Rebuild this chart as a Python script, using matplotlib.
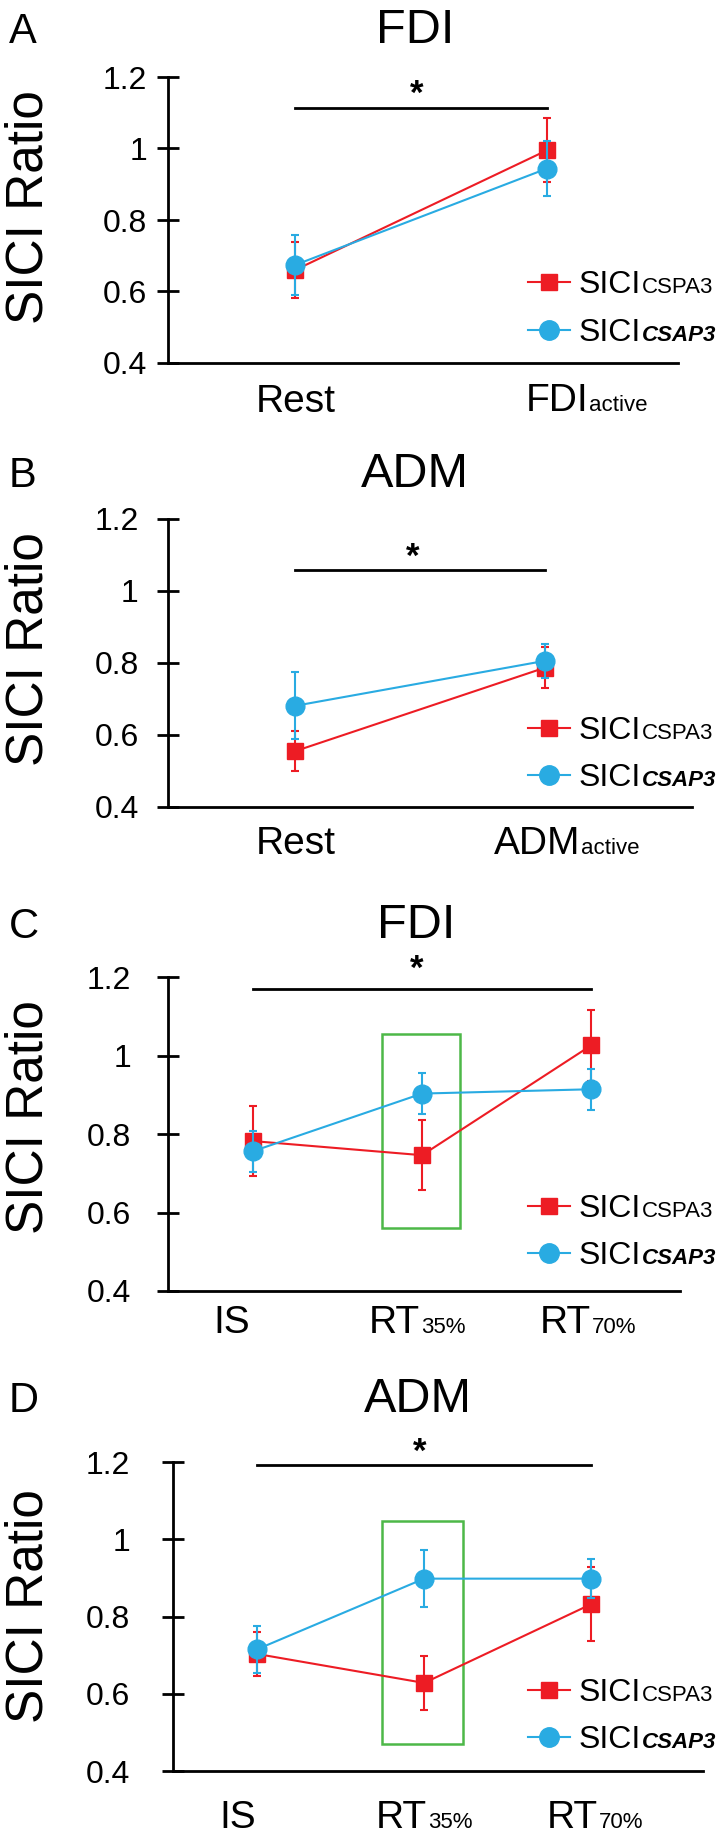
import matplotlib
matplotlib.use('Agg')
import matplotlib.pyplot as plt
from matplotlib.lines import Line2D
from matplotlib.patches import Rectangle

plt.rcParams['font.family'] = ['Liberation Sans', 'DejaVu Sans']

W, H = 722, 1835
RED = '#ED1C24'
BLUE = '#29ABE2'
GREEN = '#4DB848'

# panel A: FDI, rest vs active
cspa3_a = [0.660, 0.995]
cspa3_a_err = [0.079, 0.090]
csap3_a = [0.674, 0.944]
csap3_a_err = [0.083, 0.078]

# panel B: ADM, rest vs active
cspa3_b = [0.555, 0.787]
cspa3_b_err = [0.055, 0.057]
csap3_b = [0.681, 0.806]
csap3_b_err = [0.093, 0.047]

# panel C: FDI, IS / RT35% / RT70%
cspa3_c = [0.782, 0.746, 1.026]
cspa3_c_err = [0.090, 0.089, 0.090]
csap3_c = [0.756, 0.903, 0.914]
csap3_c_err = [0.052, 0.052, 0.052]

# panel D: ADM, IS / RT35% / RT70%
cspa3_d = [0.703, 0.628, 0.832]
cspa3_d_err = [0.057, 0.069, 0.095]
csap3_d = [0.715, 0.898, 0.898]
csap3_d_err = [0.061, 0.074, 0.051]

yticks = [0.4, 0.6, 0.8, 1.0, 1.2]
ytick_labels = ['0.4', '0.6', '0.8', '1', '1.2']

sig_y = [1.114, 1.058, 1.170, 1.193]
star_y = [1.181, 1.123, 1.247, 1.252]
star_x = [0.484, 0.47, 0.97, 0.976]
sig_span = [(0, 1), (0, 1), (0, 2), (0, 2)]

# highlight boxes (x0, x1, y0, y1) for panels C and D
box_c = (0.763, 1.226, 0.561, 1.056)
box_d = (0.748, 1.230, 0.470, 1.046)


def fx(x):
    return x / W


def fy(y):
    return 1 - y / H


def text_sub(ax, x, y, main, sub, size, sub_size, sub_style='normal', sub_weight='normal'):
    """main text with a smaller text on the same baseline right after it"""
    t = ax.figure.text(fx(x), fy(y), main, fontsize=size, ha='left', va='baseline')
    ax.annotate(sub, xy=(1, 0), xycoords=t, xytext=(0.5, 0.21 * size),
                textcoords='offset points', fontsize=sub_size, va='baseline',
                ha='left', fontstyle=sub_style, fontweight=sub_weight)


fig = plt.figure(figsize=(W / 100, H / 100), dpi=100)

# left, right, top, bottom in pixels, xlim, tick pad
layouts = [
    (168, 678, 77, 363, (-0.504, 1.520), 7.2),
    (168, 692, 519, 807, (-0.508, 1.588), 13),
    (168, 680, 977, 1291, (-0.501, 2.524), 18.7),
    (173, 703, 1462, 1771, (-0.503, 2.669), 23),
]
red_data = [(cspa3_a, cspa3_a_err), (cspa3_b, cspa3_b_err),
            (cspa3_c, cspa3_c_err), (cspa3_d, cspa3_d_err)]
blue_data = [(csap3_a, csap3_a_err), (csap3_b, csap3_b_err),
             (csap3_c, csap3_c_err), (csap3_d, csap3_d_err)]

axes = []
for i, (l, r, t, b, xlim, pad) in enumerate(layouts):
    ax = fig.add_axes([fx(l), fy(b), (r - l) / W, (b - t) / H])
    axes.append(ax)
    rv, re = red_data[i]
    bv, be = blue_data[i]
    xs = list(range(len(rv)))
    ax.errorbar(xs, rv, yerr=re, color=RED, lw=1.5, marker='s', ms=12,
                capsize=3.2, capthick=1.5, elinewidth=1.5, clip_on=False, zorder=3)
    ax.errorbar(xs, bv, yerr=be, color=BLUE, lw=1.5, marker='o', ms=13.5,
                capsize=3.2, capthick=1.5, elinewidth=1.5, clip_on=False, zorder=4)
    ax.set_xlim(*xlim)
    ax.set_ylim(0.4, 1.2)
    ax.set_yticks(yticks)
    ax.set_yticklabels(ytick_labels)
    ax.set_xticks([])
    for s in ['top', 'right']:
        ax.spines[s].set_visible(False)
    for s in ['left', 'bottom']:
        ax.spines[s].set_linewidth(2)
    ax.tick_params(axis='y', direction='inout', length=16, width=2, labelsize=23, pad=pad)
    ax.patch.set_alpha(0)

    # significance bar and star
    x0, x1 = sig_span[i]
    ax.plot([x0, x1], [sig_y[i], sig_y[i]], color='black', lw=2, clip_on=False)
    ax.annotate('*', xy=(star_x[i], star_y[i]), xytext=(0, -0.58 * 25),
                textcoords='offset points', ha='center', va='baseline',
                fontsize=25, fontweight='bold', annotation_clip=False)

for ax, box in zip(axes[2:], [box_c, box_d]):
    x0, x1, y0, y1 = box
    ax.add_patch(Rectangle((x0, y0), x1 - x0, y1 - y0, fill=False,
                           ec=GREEN, lw=1.8, zorder=2))

# panel letters and titles (pixel positions)
letters = ['A', 'B', 'C', 'D']
titles = ['FDI', 'ADM', 'FDI', 'ADM']
title_base = [43, 487, 938, 1412]
title_x = [415, 415, 416, 418]
for i in range(4):
    fig.text(fx(9), fy(title_base[i]), letters[i], fontsize=30, va='baseline', ha='left')
    fig.text(fx(title_x[i]), fy(title_base[i]), titles[i], fontsize=35,
             va='baseline', ha='center')

# y labels
ylabel_y = [207, 649, 1117, 1606]
for y in ylabel_y:
    fig.text(fx(29), fy(y), 'SICI Ratio', fontsize=37, rotation=90,
             ha='center', va='center')

# x category labels
text_sub(axes[0], 256, 412, 'Rest', '', 28, 16)
text_sub(axes[0], 526, 411, 'FDI', 'active', 28, 16)
text_sub(axes[1], 256, 854, 'Rest', '', 28, 16)
text_sub(axes[1], 494, 854, 'ADM', 'active', 28, 16)
text_sub(axes[2], 213, 1333, 'IS', '', 28, 16)
text_sub(axes[2], 369, 1333, 'RT', '35%', 28, 16)
text_sub(axes[2], 540, 1333, 'RT', '70%', 28, 16)
text_sub(axes[3], 219, 1828, 'IS', '', 28, 16)
text_sub(axes[3], 376, 1828, 'RT', '35%', 28, 16)
text_sub(axes[3], 547, 1828, 'RT', '70%', 28, 16)

# legends
legend_y = [(282, 330), (728, 775), (1206, 1253), (1690, 1737)]
for i, (yr, yb) in enumerate(legend_y):
    for y, col, mk, ms in [(yr, RED, 's', 12), (yb, BLUE, 'o', 14)]:
        fig.add_artist(Line2D([fx(528), fx(549), fx(570)], [fy(y)] * 3,
                              transform=fig.transFigure, color=col, lw=1.5,
                              marker=mk, ms=ms, markevery=[1]))
    text_sub(axes[i], 579, yr + 11, 'SICI', 'CSPA3', 23, 16)
    text_sub(axes[i], 579, yb + 11, 'SICI', 'CSAP3', 23, 16,
             sub_style='italic', sub_weight='bold')

fig.savefig('out.png', dpi=100)
